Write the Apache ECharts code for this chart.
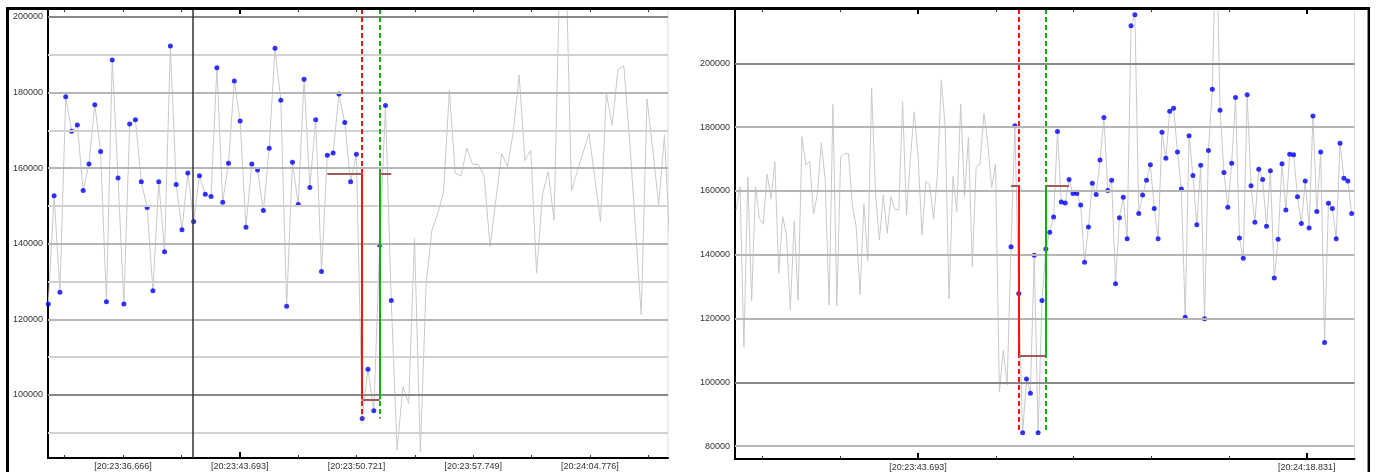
<!DOCTYPE html>
<html><head><meta charset="utf-8">
<script src="https://cdn.jsdelivr.net/npm/echarts@6/dist/echarts.min.js"></script>
<style>html,body{margin:0;padding:0;background:#fff}#c{width:1379px;height:472px}</style>
</head><body><div id="c"></div><script>
// ---------- data ----------
const PERIOD = 0.35;              // seconds between samples
const leftStartTime = 32.168;     // seconds after 20:23:00
const rightStartTime = 27.245;

const leftValues = [
  124100,152700,127200,178900,169800,171400,154100,161100,176800,164400,
  124700,188600,157400,124100,171700,172800,156400,149600,127600,156400,
  137900,192300,155700,143700,158700,145900,158000,153100,152500,186600,
  151000,161300,183100,172500,144400,161100,159500,148800,165300,191700,
  178000,123500,161600,150400,183500,154900,172800,132700,163400,164000,
  179600,172100,156400,163700,93800,106800,95800,139700,176600,125000,
  85450,102200,97800,141450,85000,129500,143650,148000,153800,180700,
  158600,158000,165300,161000,161000,157750,139250,151600,163900,160400,
  169650,184650,162000,164800,132200,152900,159100,146300,213000,218000,
  154050,159100,164200,169200,157600,145850,179800,171400,186000,187100,
  167450,144500,121150,178300,164800,150250,168800,136800
];
const rightValues = [
  154000,161300,111000,164300,125600,161300,151400,149600,165300,157600,
  169000,134200,151900,146200,122700,150600,125800,177000,168100,169400,
  152700,159300,175100,163400,124200,187100,123900,170700,171600,171800,
  155600,148800,127600,155900,138100,192200,159200,144600,158700,146700,
  158200,154200,154000,188000,152400,170200,184800,170700,146200,162900,
  161900,151100,165500,194800,180100,126100,164500,153500,187200,158200,
  176800,136200,167600,168400,184300,174900,161000,168400,97100,110100,
  99200,
  142500,180400,127800,84200,101000,96600,139800,84200,125600,141800,
  147000,151800,178600,156500,156200,163600,159200,159200,155600,137600,
  148700,162400,158900,169700,183000,160100,163300,130900,151600,158000,
  145000,211800,215200,152900,158700,163300,168200,154500,145000,178400,
  170200,185000,185900,172200,160600,120400,177300,164800,149400,168000,
  119900,172700,191900,245000,185300,165800,154900,168700,189300,145200,
  138900,190100,161600,150200,166800,163600,148900,166300,132700,144800,
  168500,154000,171500,171300,158200,149800,163100,148400,183500,153500,
  172200,112500,156100,154500,145000,174900,164000,163100,152900
];
// index ranges of the highlighted (blue) samples
const leftBlueRange = [0, 59];
const rightBlueRange = [71, 159];

// step annotation (sample indices and levels)
const leftEvent  = { start: 48, red: 54, green: 57, end: 59, high: 158650, low: 98860 };
const rightEvent = { start: 71, red: 73, green: 80, end: 86, high: 161630, low: 108460 };
const leftCursorTime = 40.88;

// axes
const leftLabelTimes = [36.666, 43.693, 50.721, 57.749, 64.776];
const leftLabels = ['[20:23:36.666]','[20:23:43.693]','[20:23:50.721]','[20:23:57.749]','[20:24:04.776]'];
const leftTickTimes = [33.152, 36.666, 40.180, 43.693, 47.207, 50.721, 54.235, 57.749, 61.262, 64.776, 68.290];
const rightLabelTimes = [43.693, 78.831];
const rightLabels = ['[20:23:43.693]','[20:24:18.831]'];
const rightTickTimes = [29.638, 36.666, 43.693, 50.721, 57.749, 64.776, 71.804, 78.831];
const leftBigTicks = [43.693];
const rightBigTicks = [43.693, 78.831];

const leftYLabels = [100000,120000,140000,160000,180000,200000];
const leftGridValues = [90000,100000,110000,120000,130000,140000,150000,160000,170000,180000,190000,200000];
const rightYLabels = [80000,100000,120000,140000,160000,180000,200000];
const rightGridValues = [80000,100000,120000,140000,160000,180000,200000];

const leftRange = { xMin: 32.15, xMax: 69.48, yMin: 83333, yMax: 202116 };
const rightRange = { xMin: 27.14, xMax: 83.15, yMin: 75950, yMax: 217020 };

// ---------- build ----------
const FONT = 'Liberation Sans';
function gridStyle(v){
  if (v % 100000 === 0) return {color:'#888888', width:2, type:'solid'};
  if (v % 20000 === 0) return {color:'#b6b6b6', width:2, type:'solid'};
  return {color:'#d0d0d0', width:2, type:'solid'};
}
function fmt(times, labels){
  return function(val){
    for (let i=0;i<times.length;i++) if (Math.abs(times[i]-val) < 0.001) return labels[i];
    return '';
  };
}
function xAxesFor(gi, rng, tickTimes, labelTimes, labels, bigTicks){
  return [
    { type:'value', gridIndex:gi, position:'bottom', min:rng.xMin, max:rng.xMax,
      axisLine:{show:true, lineStyle:{color:'#000', width:2}},
      axisTick:{show:true, inside:true, length:3, customValues:tickTimes, lineStyle:{color:'#333', width:1}},
      axisLabel:{show:true, customValues:labelTimes, formatter:fmt(labelTimes, labels), fontFamily:FONT, fontSize:9, color:'#333', margin:4},
      splitLine:{show:false} },
    { type:'value', gridIndex:gi, position:'top', min:rng.xMin, max:rng.xMax,
      axisLine:{show:true, lineStyle:{color:'#000', width:2}},
      axisTick:{show:true, inside:true, length:3, customValues:tickTimes, lineStyle:{color:'#333', width:1}},
      axisLabel:{show:false}, splitLine:{show:false} },
    { type:'value', gridIndex:gi, position:'bottom', min:rng.xMin, max:rng.xMax,
      axisLine:{show:false},
      axisTick:{show:true, inside:true, length:6, customValues:bigTicks, lineStyle:{color:'#000', width:2}},
      axisLabel:{show:false}, splitLine:{show:false} },
    { type:'value', gridIndex:gi, position:'top', min:rng.xMin, max:rng.xMax,
      axisLine:{show:false},
      axisTick:{show:true, inside:true, length:5, customValues:bigTicks, lineStyle:{color:'#000', width:2}},
      axisLabel:{show:false}, splitLine:{show:false} }
  ];
}
function yAxisFor(gi, rng, labelVals){
  return { type:'value', gridIndex:gi, min:rng.yMin, max:rng.yMax,
    axisLine:{show:true, lineStyle:{color:'#000', width:2}},
    axisTick:{show:false},
    axisLabel:{show:true, customValues:labelVals, formatter:v=>String(Math.round(v)), fontFamily:FONT, fontSize:9, color:'#333', margin:5},
    splitLine:{show:false} };
}
function seriesFor(xi, yi, values, start, blueRange, ev, rng, gridVals, cursor){
  const pts = values.map((v,i)=>[start + i*PERIOD, v]);
  const blue = pts.slice(blueRange[0], blueRange[1]+1);
  const tAt = i => start + i*PERIOD;
  const tR = tAt(ev.red), tG = tAt(ev.green);
  let bottom = Infinity;
  for (let i=ev.red;i<=ev.green;i++) bottom = Math.min(bottom, values[i]);
  const red = '#ff1010', green = '#10b010', brown = '#a05a58';
  const seg = (a,b,style)=>[{coord:a, lineStyle:style},{coord:b}];
  const ann = [
    seg([tR, rng.yMax],[tR, bottom],{color:red, width:2, type:[5,3]}),
    seg([tG, rng.yMax],[tG, bottom],{color:green, width:2, type:[5,3]}),
    seg([tR, ev.high],[tR, ev.low],{color:red, width:2, type:'solid'}),
    seg([tG, ev.low],[tG, ev.high],{color:green, width:2, type:'solid'}),
    seg([tAt(ev.start), ev.high],[tR, ev.high],{color:brown, width:2, type:'solid'}),
    seg([tR, ev.low],[tG, ev.low],{color:brown, width:2, type:'solid'}),
    seg([tG, ev.high],[tAt(ev.end), ev.high],{color:brown, width:2, type:'solid'})
  ];
  if (cursor != null) ann.unshift(seg([cursor, rng.yMax],[cursor, rng.yMin],{color:'#333', width:1.5, type:'solid'}));
  return [
    { type:'line', xAxisIndex:xi, yAxisIndex:yi, data:[], z:1, silent:true,
      markLine:{ silent:true, symbol:['none','none'], label:{show:false}, animation:false,
        data: gridVals.map(v=>({yAxis:v, lineStyle:gridStyle(v)})) } },
    { type:'line', xAxisIndex:xi, yAxisIndex:yi, data:pts, z:2, showSymbol:false, clip:true, silent:true,
      lineStyle:{color:'#c9c9c9', width:1} },
    { type:'scatter', xAxisIndex:xi, yAxisIndex:yi, data:blue, z:3, symbol:'circle', symbolSize:5, clip:true, silent:true,
      itemStyle:{color:'#0000ff'} },
    { type:'line', xAxisIndex:xi, yAxisIndex:yi, data:[], z:4, silent:true,
      markLine:{ silent:true, symbol:['none','none'], label:{show:false}, animation:false, data: ann } }
  ];
}

const chart = echarts.init(document.getElementById('c'), null, {renderer:'canvas'});
chart.setOption({
  animation:false,
  backgroundColor:'#fff',
  grid:[
    {left:48, top:9, width:620, height:449, show:true, borderColor:'#dddddd', borderWidth:1, backgroundColor:'transparent'},
    {left:735, top:9, width:619.5, height:450, show:true, borderColor:'#dddddd', borderWidth:1, backgroundColor:'transparent'}
  ],
  xAxis: [].concat(
    xAxesFor(0, leftRange, leftTickTimes, leftLabelTimes, leftLabels, leftBigTicks),
    xAxesFor(1, rightRange, rightTickTimes, rightLabelTimes, rightLabels, rightBigTicks)
  ),
  yAxis: [ yAxisFor(0, leftRange, leftYLabels), yAxisFor(1, rightRange, rightYLabels) ],
  series: [].concat(
    seriesFor(0, 0, leftValues, leftStartTime, leftBlueRange, leftEvent, leftRange, leftGridValues, leftCursorTime),
    seriesFor(4, 1, rightValues, rightStartTime, rightBlueRange, rightEvent, rightRange, rightGridValues, null)
  ),
  graphic:[
    {type:'line', shape:{x1:6, y1:8.5, x2:1370, y2:8.5}, style:{stroke:'#000', lineWidth:3}, z:100},
    {type:'line', shape:{x1:7.5, y1:7, x2:7.5, y2:472}, style:{stroke:'#000', lineWidth:3}, z:100},
    {type:'line', shape:{x1:1368.8, y1:7, x2:1368.8, y2:472}, style:{stroke:'#000', lineWidth:2.5}, z:100}
  ]
});
</script></body></html>
